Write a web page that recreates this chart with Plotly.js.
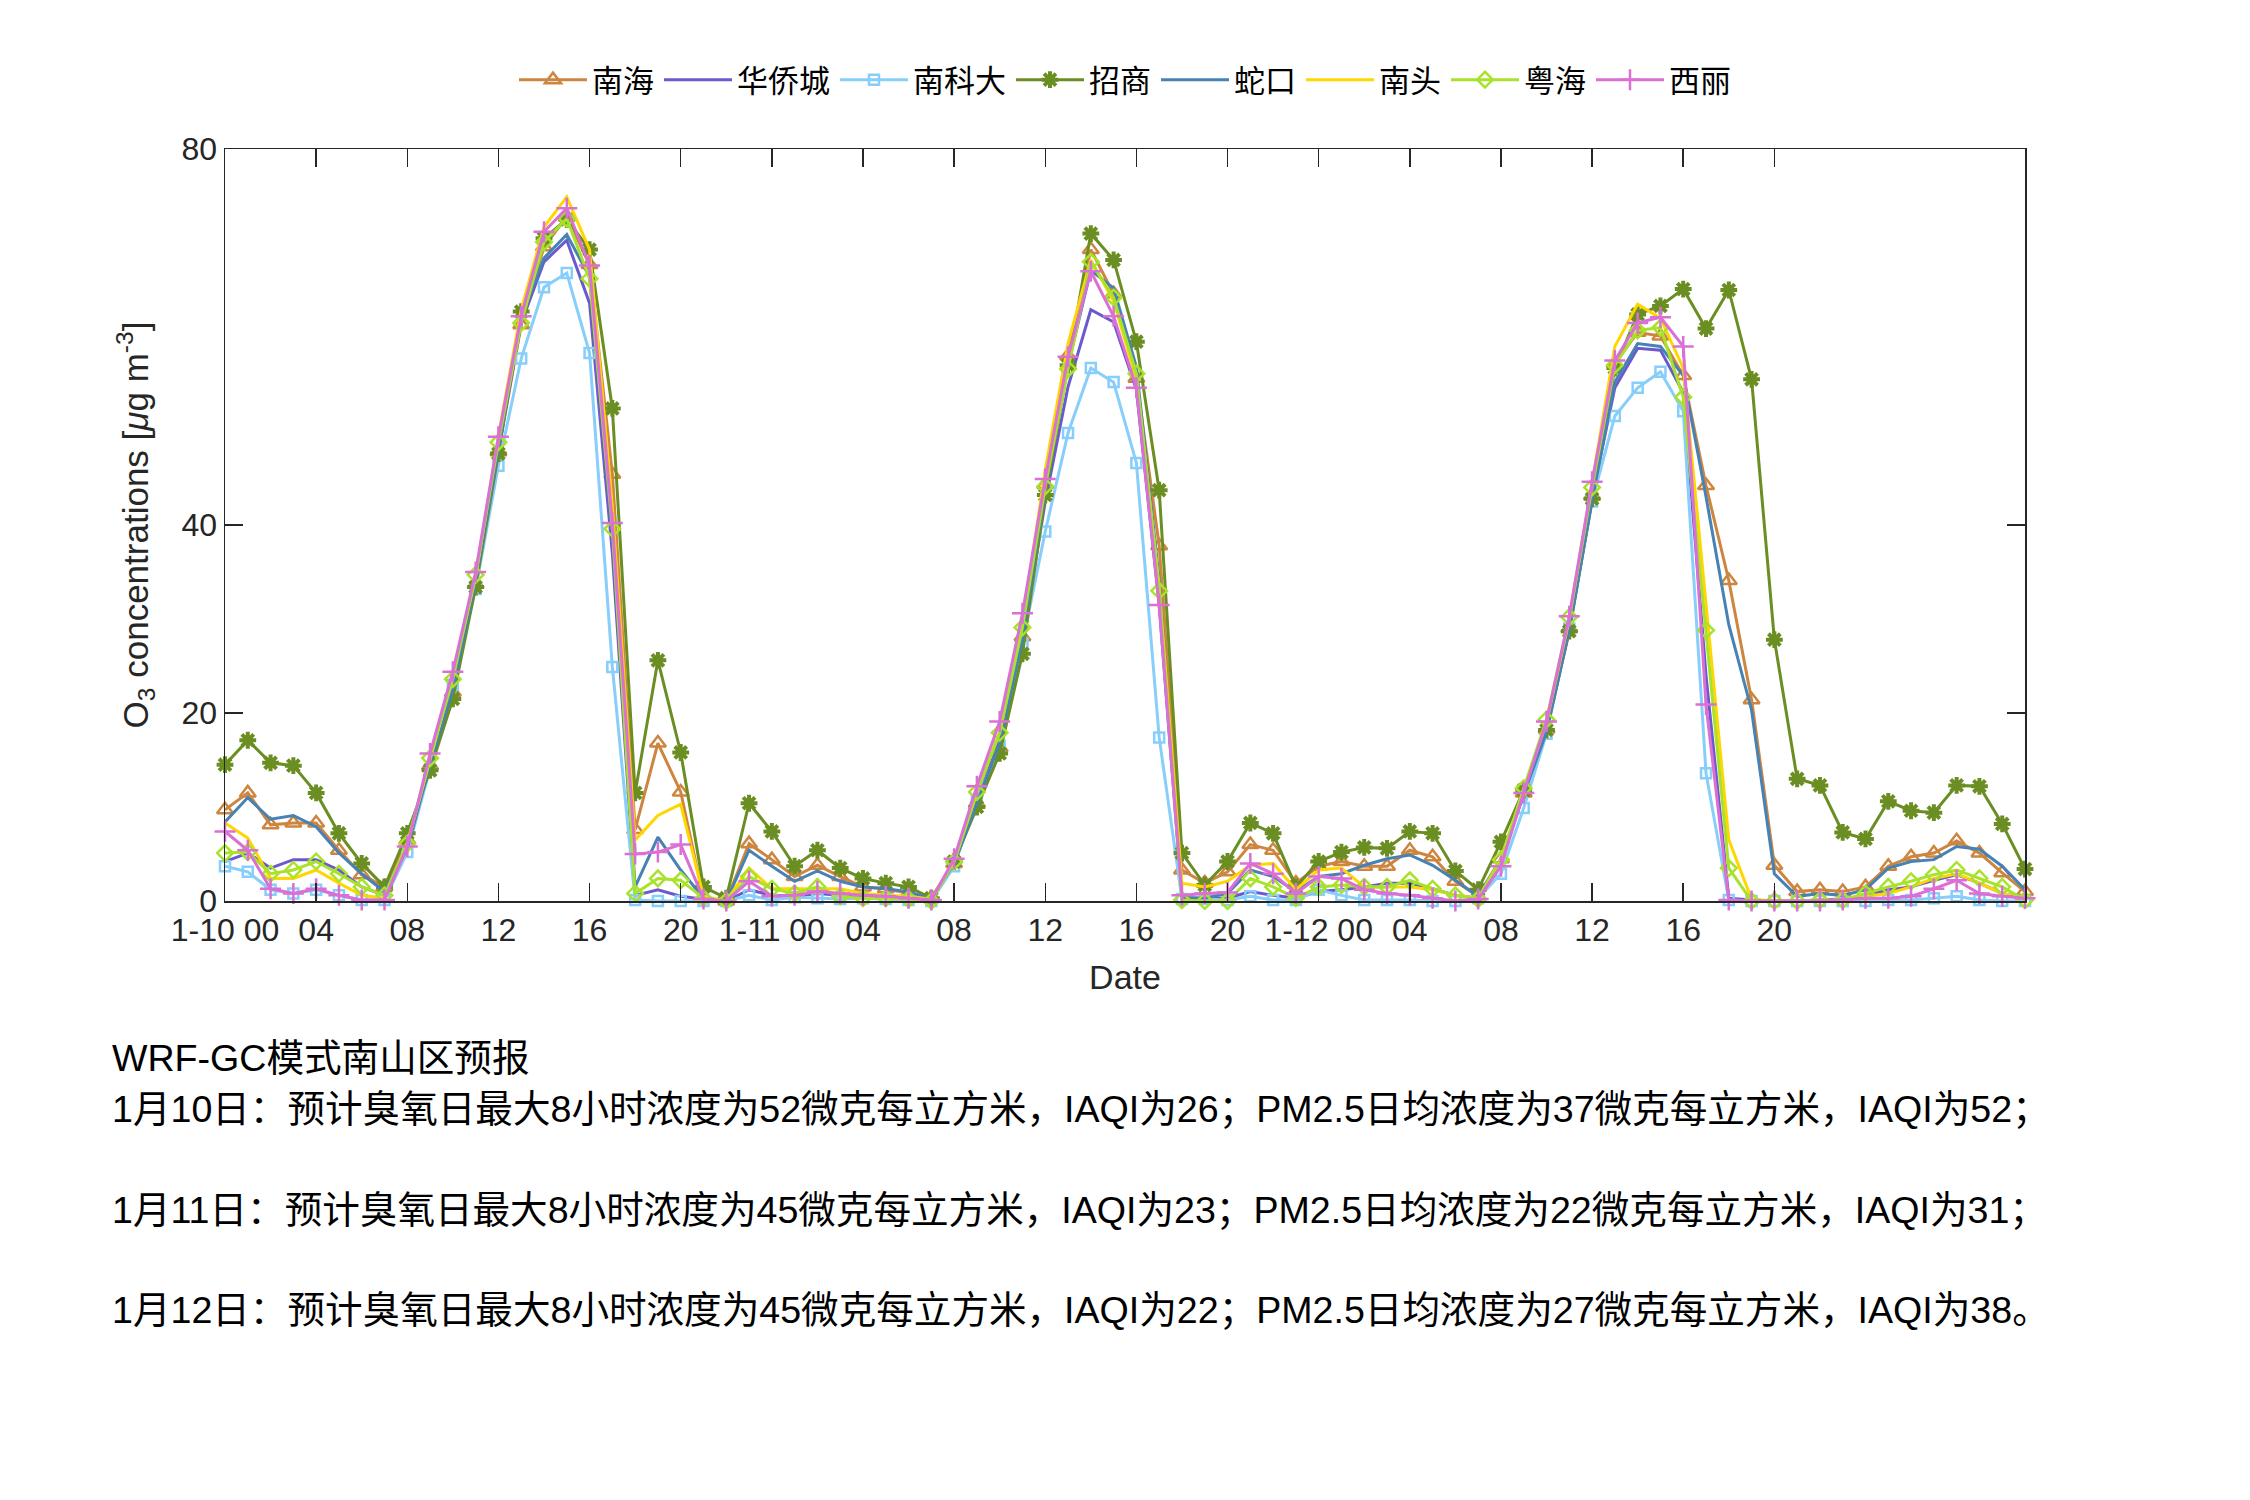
<!DOCTYPE html>
<html>
<head>
<meta charset="utf-8">
<script src="https://cdn.plot.ly/plotly-3.0.1.min.js"></script>
<style>html,body{margin:0;padding:0;background:#fff;}#chart{width:2250px;height:1500px;}</style>
</head>
<body>
<div id="chart"></div>
<script>
// Hourly O3 forecast values (µg m-3), hours 0..79 starting 1-10 00
const seriesNames = ["南海", "华侨城", "南科大", "招商", "蛇口", "南头", "粤海", "西丽"];

const nanhai = [9.7, 11.5, 8.1, 8.3, 8.3, 5.4, 2.8, 1.5, 6.5, 14.4,
  22.2, 33.7, 47.8, 61.3, 69.6, 72.8, 67.7, 45.4, 7.6, 16.8,
  11.6, 0.3, 0, 6.1, 4.4, 2.6, 3.8, 2.6, 1.5, 1.3,
  0.8, 0.3, 4.0, 10.4, 16.3, 28.1, 44.3, 58.0, 69.3, 64.6,
  55.6, 37.8, 3.3, 1.9, 3.1, 6.0, 5.4, 1.9, 3.7, 4.2,
  3.7, 3.7, 5.4, 4.7, 2.1, 0.5, 4.5, 11.5, 18.3, 29.0,
  43.1, 57.2, 60.5, 60.1, 55.9, 44.2, 34.1, 21.4, 3.8, 1.0,
  1.2, 1.0, 1.5, 3.7, 4.7, 5.1, 6.4, 5.1, 3.0, 1.0];

const qiaocheng = [4.2, 5.1, 3.5, 4.4, 4.4, 3.3, 1.5, 0.6, 5.8, 14.5,
  23.0, 34.0, 48.0, 61.5, 68.0, 70.3, 63.6, 37.0, 0.6, 1.2,
  0.5, 0.2, 0, 1.2, 0.6, 0.5, 0.8, 0.6, 0.5, 0.4,
  0.3, 0.1, 4.2, 11.0, 17.0, 27.5, 42.5, 54.7, 62.9, 61.6,
  54.4, 31.5, 0.3, 0.3, 0.3, 1.0, 0.6, 0.3, 1.0, 1.2,
  1.5, 1.9, 1.9, 1.3, 0.6, 0.3, 4.0, 11.5, 18.5, 29.5,
  43.0, 54.6, 58.8, 58.6, 54.1, 24.0, 0.3, 0.1, 0, 0,
  0.1, 0.2, 0.6, 1.2, 1.5, 2.2, 2.8, 1.9, 0.8, 0.3];

const nankeda = [3.7, 3.1, 1.2, 0.8, 1.2, 0.6, 0.1, 0.1, 5.2, 14.0,
  23.0, 33.2, 46.3, 57.7, 65.3, 66.8, 58.3, 24.9, 0.1, 0,
  0, 0, 0, 0.6, 0.1, 0.4, 0.3, 0.2, 0.3, 0.2,
  0.1, 0, 3.7, 10.7, 16.5, 27.4, 39.3, 49.8, 56.7, 55.2,
  46.6, 17.4, 0.2, 0.2, 0.1, 0.5, 0.1, 0.1, 1.2, 0.6,
  0.1, 0.1, 0.1, 0, 0, 0.3, 2.9, 9.9, 17.8, 29.0,
  42.5, 51.6, 54.6, 56.3, 52.1, 13.6, 0.1, 0, 0, 0,
  0, 0, 0, 0.1, 0.1, 0.3, 0.5, 0.1, 0, 0];

const zhaoshang = [14.5, 17.1, 14.7, 14.4, 11.5, 7.2, 4.0, 1.5, 7.2, 13.9,
  21.5, 33.4, 47.6, 62.7, 70.5, 72.5, 69.3, 52.4, 11.5, 25.6,
  15.8, 1.5, 0.3, 10.4, 7.4, 3.7, 5.4, 3.5, 2.4, 1.9,
  1.5, 0.3, 4.2, 10.0, 15.7, 26.3, 43.2, 57.0, 71.0, 68.2,
  59.5, 43.7, 5.1, 1.7, 4.2, 8.3, 7.2, 1.5, 4.2, 5.2,
  5.7, 5.6, 7.4, 7.2, 3.2, 1.2, 6.3, 11.8, 18.2, 28.7,
  42.8, 56.7, 62.4, 63.3, 65.1, 60.9, 65.0, 55.5, 27.8, 13.0,
  12.3, 7.3, 6.6, 10.6, 9.6, 9.4, 12.3, 12.2, 8.2, 3.4];

const shekou = [8.4, 11.0, 8.7, 9.1, 7.9, 5.1, 2.9, 1.0, 5.6, 14.5,
  22.5, 34.0, 48.0, 62.2, 68.4, 70.9, 66.4, 39.0, 1.5, 6.8,
  3.3, 0.3, 0, 5.4, 3.7, 2.1, 3.2, 2.1, 1.5, 1.3,
  1.0, 0.2, 4.0, 10.5, 16.8, 27.8, 44.0, 57.0, 67.1, 65.2,
  56.8, 34.1, 0.4, 0.3, 0.8, 3.3, 2.6, 1.0, 2.6, 2.9,
  3.8, 4.5, 4.9, 3.8, 2.2, 0.5, 4.5, 11.3, 18.0, 28.8,
  42.6, 55.2, 59.3, 59.0, 55.9, 43.0, 29.4, 20.3, 2.9, 0.5,
  0.8, 0.6, 1.2, 3.5, 4.2, 4.4, 5.8, 5.5, 3.7, 1.2];

const nantou = [8.3, 6.7, 2.4, 2.4, 3.3, 1.9, 0.6, 0.3, 6.1, 15.0,
  24.0, 34.5, 49.5, 62.9, 71.7, 74.9, 69.3, 42.0, 6.5, 9.1,
  10.3, 0.5, 0, 3.5, 1.3, 1.3, 1.3, 1.3, 0.8, 0.6,
  0.5, 0.2, 4.2, 11.5, 18.0, 29.5, 45.9, 59.3, 68.2, 63.8,
  55.5, 33.4, 1.9, 1.5, 2.1, 3.8, 4.0, 1.2, 3.3, 3.5,
  1.5, 1.5, 1.5, 1.2, 0.6, 0.3, 4.5, 11.8, 19.0, 30.0,
  44.5, 59.0, 63.5, 62.0, 56.7, 31.5, 6.5, 0.2, 0, 0,
  0, 0.1, 0.5, 0.8, 1.5, 2.4, 2.9, 1.9, 0.8, 0.3];

const yuehai = [5.1, 5.2, 2.9, 3.3, 4.2, 2.9, 1.5, 0.6, 6.1, 15.2,
  23.6, 34.7, 48.8, 61.5, 70.1, 72.6, 66.2, 39.6, 0.8, 2.4,
  2.2, 0.3, 0, 2.6, 1.3, 0.8, 1.5, 0.5, 0.3, 0.3,
  0.2, 0, 4.2, 11.6, 17.9, 29.1, 44.1, 56.6, 68.0, 64.2,
  56.1, 33.0, 0.1, 0, 0, 2.4, 1.5, 0.3, 1.5, 1.7,
  1.5, 1.5, 2.2, 1.3, 0.6, 0.2, 4.4, 12.0, 19.3, 30.2,
  44.0, 57.0, 60.7, 61.0, 53.6, 28.8, 3.5, 0, 0, 0,
  0.1, 0.1, 0.8, 1.5, 2.1, 2.8, 3.3, 2.4, 1.5, 0.1];

const xili = [7.4, 5.4, 1.3, 0.8, 1.3, 0.6, 0.1, 0.1, 5.8, 15.7,
  24.4, 35.0, 49.4, 62.2, 71.2, 73.7, 67.6, 40.2, 5.0, 5.2,
  6.0, 0.2, 0, 2.1, 0.5, 0.6, 1.0, 0.8, 0.6, 0.5,
  0.3, 0.1, 4.5, 12.2, 19.1, 30.6, 44.9, 57.9, 67.0, 62.2,
  54.6, 31.5, 0.6, 0.8, 0.9, 4.0, 2.9, 0.8, 2.6, 2.4,
  1.2, 0.8, 0.6, 0.3, 0, 0.2, 3.7, 11.5, 19.1, 30.3,
  44.6, 57.5, 61.5, 62.1, 59.0, 20.9, 0.1, 0, 0, 0,
  0, 0.1, 0.3, 0.3, 0.5, 1.3, 2.2, 0.8, 0.5, 0.3];

const tickHours = [0, 4, 8, 12, 16, 20, 24, 28, 32, 36, 40, 44, 48, 52, 56, 60, 64, 68];
const tickLabels = ["1-10 00", "04", "08", "12", "16", "20", "1-11 00", "04", "08", "12", "16", "20", "1-12 00", "04", "08", "12", "16", "20"];
const yTicks = [0, 20, 40, 80];

const noteLines = [
  "WRF-GC模式南山区预报",
  "1月10日：预计臭氧日最大8小时浓度为52微克每立方米，IAQI为26；PM2.5日均浓度为37微克每立方米，IAQI为52；",
  "1月11日：预计臭氧日最大8小时浓度为45微克每立方米，IAQI为23；PM2.5日均浓度为22微克每立方米，IAQI为31；",
  "1月12日：预计臭氧日最大8小时浓度为45微克每立方米，IAQI为22；PM2.5日均浓度为27微克每立方米，IAQI为38。"
];

const seriesData = [nanhai, qiaocheng, nankeda, zhaoshang, shekou, nantou, yuehai, xili];
const styles = [
  {color: "#CD853F", symbol: "triangle-up-open", size: 14, mode: "lines+markers"},
  {color: "#6A5ACD", symbol: null, size: 0, mode: "lines"},
  {color: "#87CEFA", symbol: "square-open", size: 10, mode: "lines+markers"},
  {color: "#6B8E23", symbol: "asterisk-open", size: 14, mode: "lines+markers"},
  {color: "#4682B4", symbol: null, size: 0, mode: "lines"},
  {color: "#FFD700", symbol: null, size: 0, mode: "lines"},
  {color: "#A8E22A", symbol: "diamond-open", size: 12, mode: "lines+markers"},
  {color: "#DA70D6", symbol: "cross-thin-open", size: 15, mode: "lines+markers"}
];

const FONT = "Liberation Sans, Noto Sans CJK SC, sans-serif";
const INK = "#262626";

const traces = seriesData.map((vals, i) => {
  const s = styles[i];
  const t = {
    type: "scatter",
    y: vals,
    name: seriesNames[i],
    mode: s.mode,
    cliponaxis: false,
    line: {color: s.color, width: 3}
  };
  if (s.symbol) {
    t.marker = {symbol: s.symbol, size: s.size, color: s.color,
      line: {color: s.color, width: s.symbol === "asterisk-open" ? 4 : 2.5}};
  }
  return t;
});

const plotTopPx = 149, plotBottomPx = 901, plotLeftPx = 225, plotWidthPx = 1800;
const plotHeightPx = plotBottomPx - plotTopPx;
const noteCentersPx = [1058, 1109, 1210, 1310];
const annotations = noteLines.map((txt, i) => ({
  text: txt,
  xref: "paper", yref: "paper",
  x: (110 - plotLeftPx) / plotWidthPx,
  y: (plotBottomPx - noteCentersPx[i]) / plotHeightPx,
  xanchor: "left", yanchor: "middle",
  showarrow: false,
  font: {family: FONT, size: 37.6, color: "#000"}
}));

const axisCommon = {
  ticks: "inside", ticklen: 18, tickwidth: 1.5, tickcolor: INK,
  showline: true, linecolor: INK, linewidth: 1.5, mirror: "ticks",
  showgrid: false, zeroline: false,
  tickfont: {family: FONT, size: 32, color: INK}
};

const layout = {
  width: 2250, height: 1500,
  paper_bgcolor: "#fff", plot_bgcolor: "#fff",
  margin: {l: 225, r: 225, t: 149, b: 599},
  font: {family: FONT, color: INK},
  showlegend: true,
  legend: {orientation: "h", x: 0.5, xanchor: "center", y: 1 + (149 - 80) / 752, yanchor: "middle",
    font: {family: FONT, size: 31, color: "#000"}, itemwidth: 68, bgcolor: "rgba(0,0,0,0)", traceorder: "normal"},
  xaxis: Object.assign({}, axisCommon, {
    range: [0, 79], tickmode: "array", tickvals: tickHours, ticktext: tickLabels,
    title: {text: "Date", font: {family: FONT, size: 34, color: INK}, standoff: 18}
  }),
  yaxis: Object.assign({}, axisCommon, {
    range: [0, 80], tickmode: "array", tickvals: yTicks, ticktext: yTicks.map(String),
    title: {text: "O<sub>3</sub> concentrations [<i>μ</i>g m<sup>-3</sup>]", font: {family: FONT, size: 35, color: INK}, standoff: 22}
  }),
  annotations: annotations
};

Plotly.newPlot("chart", traces, layout, {displayModeBar: false, staticPlot: true});
</script>
</body>
</html>
